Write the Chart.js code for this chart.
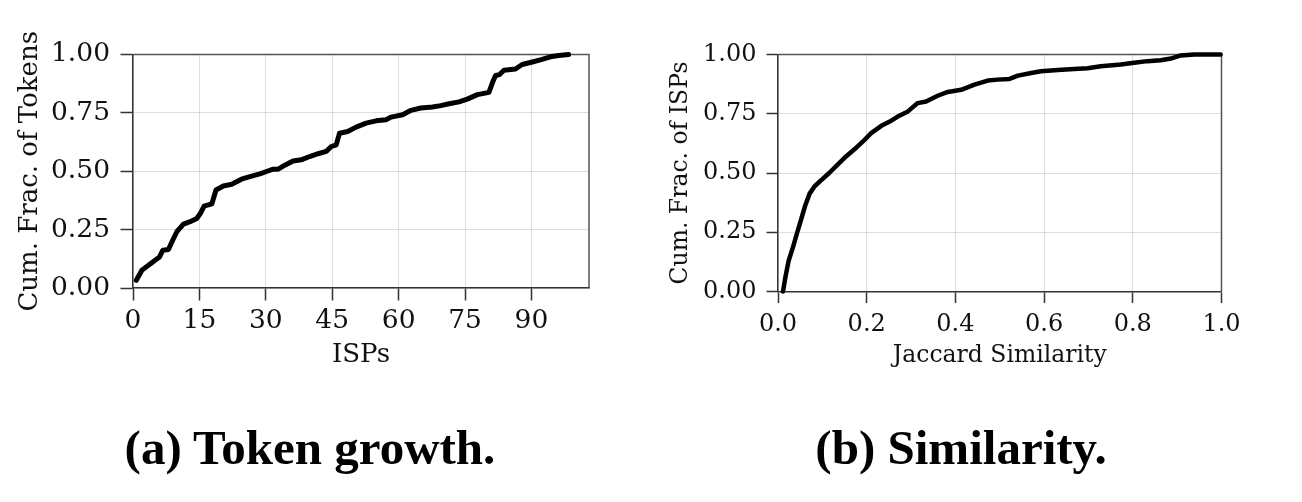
<!DOCTYPE html>
<html><head><meta charset="utf-8">
<script src="https://cdn.jsdelivr.net/npm/chart.js@4.4.1/dist/chart.umd.min.js"></script>
<style>
html,body{margin:0;padding:0;background:#fff;width:1302px;height:502px;overflow:hidden}
.box{position:absolute;top:0;width:651px;height:400px}
.cap{position:absolute;top:423px;font-family:'Liberation Serif','Times New Roman',serif;font-weight:bold;font-size:49px;line-height:50px;white-space:nowrap;color:#000;transform:translateX(-50%)}
</style></head><body>
<div class="box" style="left:0"><canvas id="c1" width="651" height="400"></canvas></div>
<div class="box" style="left:651px"><canvas id="c2" width="651" height="400"></canvas></div>
<div class="cap" style="left:310px">(a) Token growth.</div>
<div class="cap" style="left:961px">(b) Similarity.</div>
<script>
// ---- data ----
const tokensX = [0.75,2.0,3.5,5.0,6.0,6.75,8.0,8.8,9.9,11.4,12.9,14.4,15.2,16.05,17.8,18.75,20.4,22.3,24.5,26.4,28.65,30.15,31.65,32.8,34.3,36.15,38.0,39.9,41.8,43.65,44.8,45.9,46.65,48.5,50.4,52.65,54.9,57.15,58.3,60.9,62.8,65.0,67.65,69.5,71.4,73.65,75.5,77.8,80.4,81.3,81.9,82.8,83.8,86.4,87.9,90.2,92.4,94.3,96.15,98.4];
const tokensY = [0.033,0.076,0.097,0.119,0.133,0.162,0.165,0.198,0.241,0.274,0.284,0.298,0.319,0.351,0.360,0.420,0.437,0.444,0.466,0.477,0.489,0.499,0.509,0.509,0.526,0.544,0.549,0.563,0.575,0.585,0.606,0.613,0.663,0.670,0.689,0.706,0.716,0.721,0.732,0.742,0.761,0.771,0.775,0.781,0.789,0.797,0.809,0.828,0.838,0.885,0.910,0.914,0.933,0.938,0.957,0.968,0.979,0.990,0.996,1.000];
const simX = [0.0113,0.0165,0.024,0.0338,0.0435,0.0526,0.0616,0.0713,0.0826,0.0976,0.116,0.135,0.154,0.173,0.191,0.210,0.233,0.252,0.270,0.293,0.315,0.334,0.360,0.383,0.413,0.443,0.473,0.495,0.522,0.541,0.571,0.593,0.631,0.668,0.698,0.728,0.773,0.803,0.833,0.863,0.886,0.908,0.938,0.998];
const simY = [0.0,0.059,0.130,0.187,0.250,0.307,0.364,0.413,0.444,0.470,0.501,0.536,0.571,0.601,0.632,0.668,0.699,0.717,0.738,0.760,0.795,0.802,0.826,0.842,0.851,0.873,0.890,0.894,0.897,0.911,0.922,0.929,0.935,0.939,0.942,0.950,0.958,0.965,0.972,0.976,0.983,0.996,1.000,1.000];
const ispTicks = [0,15,30,45,60,75,90];
const simTicks = [0,0.2,0.4,0.6,0.8,1.0];
const fracTicks = [0,0.25,0.5,0.75,1.0];
const titleA = {x:'ISPs', y:'Cum. Frac. of Tokens'};
const titleB = {x:'Jaccard Similarity', y:'Cum. Frac. of ISPs'};

const SERIF = "'DejaVu Serif', serif";
const frame = {
  id:'frame',
  beforeDatasetsDraw(chart){
    const {ctx, chartArea:a} = chart;
    ctx.save(); ctx.strokeStyle='#555'; ctx.lineWidth=1.5;
    ctx.beginPath(); ctx.moveTo(a.left,a.top); ctx.lineTo(a.right,a.top); ctx.lineTo(a.right,a.bottom); ctx.stroke();
    ctx.restore();
  }
};

function axisCommon(ticksArr, fmt, L){
  return {
    type:'linear',
    afterBuildTicks(s){ s.ticks = ticksArr.map(v=>({value:v})); },
    grid:{color:'rgba(0,0,0,0.13)', lineWidth:1, borderDash:[1.5,3], tickLength:L.tl, tickColor:'#333', tickWidth:1.5, tickBorderDash:[]},
    border:{display:true, color:'#333', width:1.5},
    ticks:{color:'#111', font:{family:SERIF, size:L.fs}, padding:10, maxRotation:0, autoSkip:false, callback:fmt}
  };
}

function build(id, xs, ys, xTicks, xFmt, xMin, xMax, titles, L){
  const x = axisCommon(xTicks, xFmt, L);
  x.min = xMin; x.max = xMax; x.ticks.padding = L.xPad;
  x.title = {display:true, text:titles.x, color:'#111', font:{family:SERIF, size:L.ts}, padding:{top:0,bottom:L.xTitlePad}};
  x.afterFit = s => { s.height = L.xH; };
  const y = axisCommon(fracTicks, v=>v.toFixed(2), L);
  y.min = 0; y.max = 1; y.ticks.padding = L.yPad;
  y.title = {display:true, text:titles.y, color:'#111', font:{family:SERIF, size:L.ts}, padding:{top:L.yTitlePad,bottom:0}};
  y.afterFit = s => { s.width = L.yW; };
  new Chart(document.getElementById(id), {
    type:'line',
    data:{datasets:[{data: xs.map((v,i)=>({x:v, y:ys[i]})), borderColor:'#000', borderWidth:L.lw, pointRadius:0, tension:0, fill:false, clip:false, borderJoinStyle:'round', borderCapStyle:'round'}]},
    options:{
      responsive:false, animation:false, devicePixelRatio:1,
      layout:{padding:{left:0, top:54.5, right:L.padR, bottom:L.padB}},
      plugins:{legend:{display:false}, tooltip:{enabled:false}},
      scales:{x, y}
    },
    plugins:[frame]
  });
}

build('c1', tokensX, tokensY, ispTicks, v=>String(v), 0, 103, titleA,
  {fs:26.5, ts:26, tl:12.5, lw:5, xPad:4.5, yPad:10.5, xH:86, xTitlePad:2.8, yW:133, padR:62, padB:26, yTitlePad:14.4});
build('c2', simX, simY, simTicks, v=>v.toFixed(1), 0, 1, titleB,
  {fs:24, ts:23.5, tl:11.5, lw:4.5, xPad:7.5, yPad:10, xH:81, xTitlePad:3, yW:127, padR:80.5, padB:27.5, yTitlePad:16});
</script>
</body></html>
